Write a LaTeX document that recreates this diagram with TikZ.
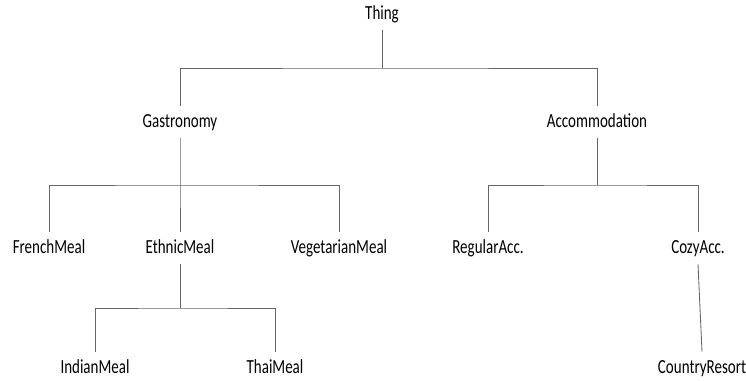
\documentclass[tikz,border=0pt]{standalone}
\usepackage{fontspec}
\setmainfont[FakeStretch=0.75]{Carlito}
\begin{document}
\begin{tikzpicture}[x=0.75pt, y=-0.75pt,
  concept/.style={font=\fontsize{15}{18}\selectfont, text height=10pt, text depth=2pt, inner xsep=2pt, inner ysep=6pt},
  branch/.style={draw=black!60, line width=0.65pt}]
  \useasboundingbox (0,0) rectangle (746,381);

  % Concepts
  \node[concept] (thing) at (382,14) {Thing};
  \node[concept] (gast) at (180,122) {Gastronomy};
  \node[concept] (acc) at (597,122) {Accommodation};
  \node[concept] (french) at (49,248) {FrenchMeal};
  \node[concept] (ethnic) at (180,248) {EthnicMeal};
  \node[concept] (veg) at (339,248) {VegetarianMeal};
  \node[concept] (regular) at (488,248) {RegularAcc.};
  \node[concept] (cozy) at (698,248) {CozyAcc.};
  \node[concept] (indian) at (95,368) {IndianMeal};
  \node[concept] (thai) at (275,368) {ThaiMeal};
  \node[concept] (country) at (702,368) {CountryResort};

  % Fork points
  \coordinate (thingfork) at (382,68);
  \coordinate (gastfork) at (180,185);
  \coordinate (accfork) at (597,185);
  \coordinate (ethnicfork) at (180,308);

  % Branches
  \draw[branch] (thing.south) -- (thingfork);
  \draw[branch] (gast.north) |- (thingfork) -| (acc.north);

  \draw[branch] (gast.south) -- (gastfork) -- (ethnic.north);
  \draw[branch] (french.north) |- (gastfork) -| (veg.north);

  \draw[branch] (acc.south) -- (accfork);
  \draw[branch] (regular.north) |- (accfork) -| (cozy.north);

  \draw[branch] (ethnic.south) -- (ethnicfork);
  \draw[branch] (indian.north) |- (ethnicfork) -| (thai.north);

  \draw[branch] (cozy.south) -- (country.north);
\end{tikzpicture}
\end{document}
